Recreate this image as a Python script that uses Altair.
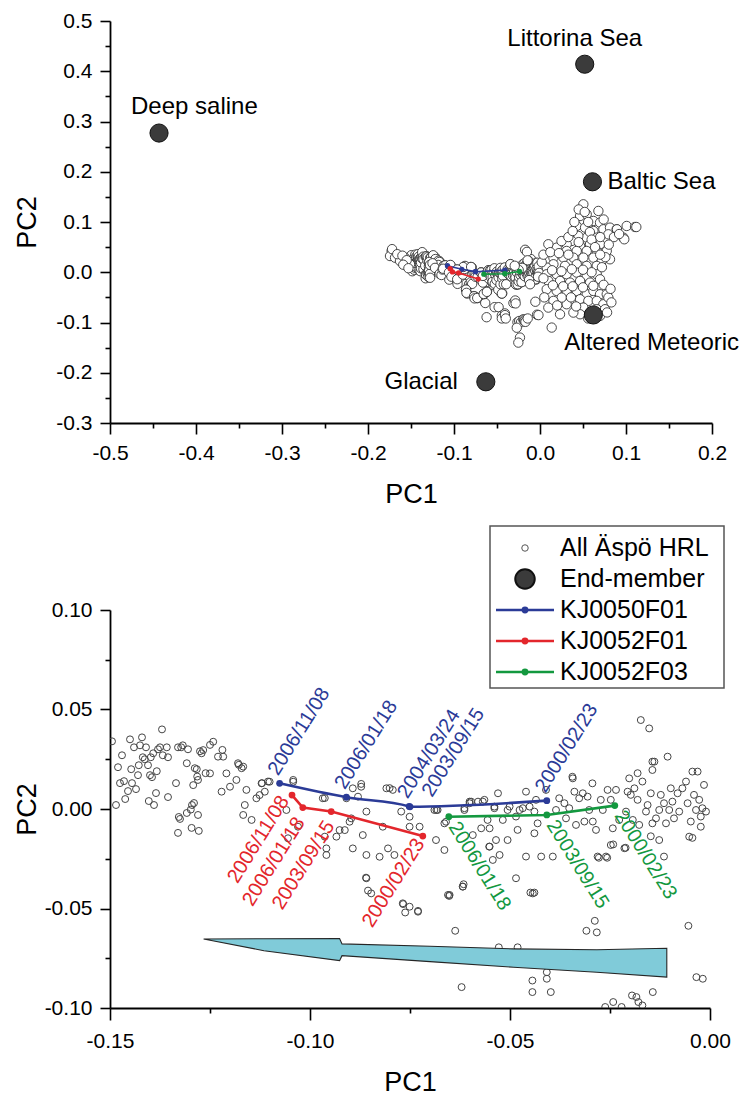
import altair as alt
import pandas as pd

FONT = "Liberation Sans"

# ---------------- data ----------------
# All Äspö HRL samples (PC1, PC2) inside the lower panel window
hrl_left_arm = [
    (-0.1495, 0.034), (-0.1485, 0.002), (-0.1480, 0.021), (-0.1475, 0.013), (-0.1470, 0.027),
    (-0.1465, 0.014), (-0.1462, 0.005), (-0.1455, 0.009), (-0.1450, 0.035), (-0.1447, 0.020),
    (-0.1445, 0.013), (-0.1440, 0.031), (-0.1435, 0.010), (-0.1430, 0.017), (-0.1428, 0.022),
    (-0.1425, 0.032), (-0.1420, 0.036), (-0.1418, 0.026), (-0.1413, 0.025), (-0.1410, 0.031),
    (-0.1405, 0.022), (-0.1403, 0.004), (-0.1400, 0.017), (-0.1398, 0.026), (-0.1395, 0.016),
    (-0.1392, 0.028), (-0.1390, 0.002), (-0.1385, 0.008), (-0.1383, 0.019), (-0.1380, 0.030),
    (-0.1375, 0.031), (-0.1370, 0.040), (-0.1368, 0.027), (-0.1358, 0.031), (-0.1355, 0.026),
    (-0.1355, 0.006), (-0.1335, 0.013), (-0.1330, 0.031), (-0.1330, -0.012), (-0.1328, -0.004),
    (-0.1325, -0.005), (-0.1322, 0.031), (-0.1318, 0.032), (-0.1308, 0.023), (-0.1308, -0.002),
    (-0.1305, 0.030), (-0.1298, -0.0003), (-0.1296, -0.0095), (-0.1295, 0.002), (-0.1292, 0.012),
    (-0.1290, 0.003), (-0.1283, 0.020), (-0.1280, -0.003), (-0.1278, -0.011), (-0.1275, 0.029),
    (-0.1271, 0.028), (-0.1250, 0.0322), (-0.1230, 0.0263), (-0.1219, 0.0297), (-0.1178, 0.0222),
    (-0.1167, 0.0213), (-0.1120, 0.0130), (-0.1105, 0.0138), (-0.1282, 0.0163), (-0.1261, 0.0180),
]
hrl_middle = [
    (-0.1267, 0.0296), (-0.1242, 0.0338), (-0.1217, 0.0263), (-0.1209, 0.0179), (-0.1200, 0.0112),
    (-0.1180, 0.0230), (-0.1171, 0.0205), (-0.1159, 0.0096), (-0.1184, 0.0146), (-0.1163, 0.0020),
    (-0.1288, 0.0205), (-0.1280, 0.0146), (-0.1250, 0.0179), (-0.1221, 0.0087), (-0.1167, -0.0030),
    (-0.1146, -0.0055), (-0.1121, 0.0129), (-0.1113, 0.0087), (-0.1101, 0.0137), (-0.1134, 0.0054),
    (-0.1126, 0.0070), (-0.1042, 0.0137), (-0.1055, -0.0147), (-0.1059, -0.0005), (-0.1030, -0.0089),
    (-0.0959, -0.0198), (-0.0934, -0.0139), (-0.0926, -0.0106), (-0.0913, -0.0106), (-0.0893, -0.0198),
    (-0.0901, -0.0064), (-0.0868, -0.0131), (-0.0859, -0.0231), (-0.0872, 0.0112), (-0.0859, -0.0013),
    (-0.0826, -0.0240), (-0.0818, -0.0089), (-0.0809, 0.0104), (-0.0793, 0.0096), (-0.0805, -0.0198),
    (-0.0789, -0.0231), (-0.0772, -0.0013), (-0.0751, -0.0039), (-0.0751, -0.0089), (-0.0726, -0.0089),
    (-0.0685, -0.0156), (-0.0681, -0.0005), (-0.0664, -0.0206), (-0.0660, -0.0064), (-0.0651, -0.0432),
    (-0.0618, -0.0390), (-0.0614, 0.0004), (-0.0601, 0.0029), (-0.0593, -0.0131), (-0.0568, 0.0037),
    (-0.0556, -0.0055), (-0.0543, -0.0256), (-0.0539, 0.0012), (-0.0535, -0.0156), (-0.0552, -0.0189),
    (-0.0859, -0.0348), (-0.0847, -0.0424), (-0.0768, -0.0474), (-0.0751, -0.0491), (-0.0730, -0.0516),
    (-0.0959, -0.0231), (-0.0963, -0.0139), (-0.0897, -0.0047), (-0.0909, 0.0054), (-0.0880, 0.0062),
    (-0.0968, 0.0054), (-0.1042, 0.0146), (-0.0872, 0.0126), (-0.0893, 0.0104), (-0.0801, 0.0105),
    (-0.0963, 0.0055), (-0.0689, -0.0005), (-0.0597, 0.0037),
]
hrl_low = [
    (-0.0860, -0.0345), (-0.0855, -0.0410), (-0.0767, -0.0478), (-0.0762, -0.0520), (-0.0730, -0.0512),
    (-0.0637, -0.0612), (-0.0621, -0.0895), (-0.0616, -0.0378), (-0.0652, -0.0437), (-0.0528, -0.0695),
    (-0.0481, -0.0695), (-0.0449, -0.0420), (-0.0439, -0.0420), (-0.0444, -0.0862), (-0.0444, -0.0920),
    (-0.0408, -0.0820), (-0.0408, -0.0853), (-0.0398, -0.0920), (-0.0309, -0.0612), (-0.0288, -0.0562),
    (-0.0283, -0.0620), (-0.0262, -0.0995), (-0.0242, -0.0970), (-0.0221, -0.0995), (-0.0195, -0.0937),
    (-0.0184, -0.0945), (-0.0179, -0.0970), (-0.0169, -0.0987), (-0.0143, -0.0920), (-0.0054, -0.0587),
    (-0.0034, -0.0845), (-0.0018, -0.0853), (-0.0278, -0.0245), (-0.0257, -0.0245), (-0.0242, -0.0178),
    (-0.0211, -0.0195), (-0.0148, -0.0137), (-0.0044, -0.0145),
]
hrl_right = [
    (-0.0684, -0.0005), (-0.0664, -0.0072), (-0.0655, -0.0432), (-0.0618, -0.0390), (-0.0614, -0.0005),
    (-0.0601, 0.0037), (-0.0580, 0.0037), (-0.0572, -0.0097), (-0.0564, 0.0046), (-0.0551, -0.0097),
    (-0.0551, -0.0189), (-0.0539, 0.0004), (-0.0530, 0.0079), (-0.0526, -0.0231), (-0.0518, -0.0055),
    (-0.0506, -0.0005), (-0.0506, -0.0156), (-0.0501, 0.0012), (-0.0485, -0.0038), (-0.0485, -0.0348),
    (-0.0481, -0.0105), (-0.0476, -0.0005), (-0.0468, 0.0004), (-0.0460, 0.0087), (-0.0460, -0.0239),
    (-0.0451, 0.0012), (-0.0443, -0.0424), (-0.0439, -0.0013), (-0.0439, -0.0122), (-0.0435, 0.0046),
    (-0.0431, -0.0072), (-0.0422, -0.0239), (-0.0410, 0.0096), (-0.0393, -0.0239), (-0.0385, -0.0005),
    (-0.0377, 0.0054), (-0.0364, 0.0029), (-0.0360, -0.0047), (-0.0352, 0.0004), (-0.0343, 0.0154),
    (-0.0339, 0.0087), (-0.0335, -0.0080), (-0.0327, 0.0054), (-0.0318, 0.0079), (-0.0314, -0.0063),
    (-0.0306, 0.0062), (-0.0302, -0.0005), (-0.0293, -0.0063), (-0.0285, -0.0105), (-0.0281, -0.0239),
    (-0.0273, 0.0046), (-0.0268, -0.0005), (-0.0260, -0.0239), (-0.0256, 0.0096), (-0.0248, -0.0181),
    (-0.0243, -0.0097), (-0.0235, 0.0096), (-0.0227, -0.0055), (-0.0214, -0.0197), (-0.0210, -0.0013),
    (-0.0202, 0.0154), (-0.0198, 0.0071), (-0.0193, -0.0055), (-0.0189, 0.0104), (-0.0181, 0.0046),
    (-0.0181, 0.0180), (-0.0177, -0.0080), (-0.0169, 0.0138), (-0.0160, -0.0013), (-0.0156, 0.0020),
    (-0.0148, 0.0079), (-0.0144, 0.0196), (-0.0144, -0.0072), (-0.0135, -0.0047), (-0.0127, -0.0005),
    (-0.0123, 0.0071), (-0.0115, 0.0029), (-0.0110, -0.0072), (-0.0106, 0.0263), (-0.0102, -0.0005),
    (-0.0098, 0.0104), (-0.0094, 0.0037), (-0.0090, -0.0047), (-0.0081, 0.0079), (-0.0077, -0.0013),
    (-0.0069, 0.0104), (-0.0060, 0.0138), (-0.0056, 0.0029), (-0.0052, -0.0139), (-0.0048, -0.0063),
    (-0.0044, 0.0188), (-0.0040, 0.0071), (-0.0035, -0.0005), (-0.0031, 0.0188), (-0.0027, 0.0046),
    (-0.0023, -0.0038), (-0.0019, 0.0004), (-0.0015, 0.0121), (-0.0010, -0.0013), (-0.0139, 0.0238),
    (-0.0023, -0.0089), (-0.0206, 0.0087), (-0.0248, 0.0046), (-0.0127, -0.0156), (-0.0115, -0.0239),
    (-0.0173, 0.0447), (-0.0152, 0.0405), (-0.0144, 0.0238), (-0.0344, 0.0162), (-0.0294, 0.0129),
]
# samples visible only in the upper panel
hrl_outer_left = [
    (-0.1725, 0.0423), (-0.1744, 0.0323), (-0.1686, 0.0290), (-0.1628, 0.0224), (-0.1570, 0.0290),
    (-0.1512, 0.0158), (-0.1720, 0.0460), (-0.1660, 0.0360), (-0.1600, 0.0330), (-0.1550, 0.0240),
    (-0.1590, 0.0150), (-0.1530, 0.0080),
]
hrl_outer_low = [(-0.0270, -0.1104), (-0.0233, -0.1300), (-0.0252, -0.1400), (0.0136, -0.1101)]
hrl_outer_right = [
    (0.0504, 0.1352), (0.0466, 0.1120), (0.0543, 0.1153), (0.0621, 0.1021), (0.0679, 0.1220),
    (0.0698, 0.0988), (0.0427, 0.0921), (0.0524, 0.0888), (0.0621, 0.0822), (0.0737, 0.0855),
    (0.0814, 0.0888), (0.0892, 0.0855), (0.1008, 0.0921), (0.1105, 0.0901), (0.0970, 0.0689),
    (0.0795, 0.0755), (0.0660, 0.0689), (0.0543, 0.0689), (0.0446, 0.0722), (0.0369, 0.0623),
    (0.0310, 0.0557), (0.0466, 0.0524), (0.0582, 0.0557), (0.0698, 0.0557), (0.0776, 0.0424),
    (0.0660, 0.0424), (0.0543, 0.0424), (0.0427, 0.0424), (0.0310, 0.0424), (0.0194, 0.0490),
    (0.0097, 0.0557), (0.0156, 0.0291), (0.0272, 0.0291), (0.0388, 0.0291), (0.0504, 0.0291),
    (0.0621, 0.0291), (0.0718, 0.0225), (0.0814, 0.0258), (0.0156, 0.0159), (0.0291, 0.0126),
    (0.0427, 0.0159), (0.0543, 0.0126), (0.0660, 0.0126), (0.0078, 0.0093), (0.0078, -0.0040),
    (0.0194, -0.0040), (0.0310, -0.0040), (0.0427, -0.0007), (0.0543, -0.0073), (0.0660, -0.0040),
    (0.0097, -0.0173), (0.0233, -0.0173), (0.0349, -0.0206), (0.0466, -0.0173), (0.0582, -0.0206),
    (0.0698, -0.0140), (0.0078, -0.0338), (0.0194, -0.0372), (0.0310, -0.0372), (0.0427, -0.0372),
    (0.0543, -0.0438), (0.0621, -0.0372), (0.0698, -0.0438), (0.0776, -0.0438), (0.0466, -0.0537),
    (0.0562, -0.0570), (0.0660, -0.0570), (0.0737, -0.0637), (0.0795, -0.0504), (0.0504, -0.0703),
    (0.0660, -0.0736), (0.0756, -0.0736), (0.0466, -0.0836), (0.0621, -0.0836), (0.0698, -0.0869),
    (0.0388, -0.0803), (0.0310, -0.0637), (0.0252, -0.0504), (0.0156, -0.0570), (0.0097, -0.0703),
    (0.0233, -0.0836), (0.0895, 0.0855), (0.1120, 0.0900), (0.0980, 0.0656),
]
hrl_outer_wing = [
    (0.0020, 0.0200), (0.0040, 0.0350), (0.0120, 0.0400), (0.0220, 0.0380), (0.0250, 0.0620),
    (0.0330, 0.0700), (0.0380, 0.0820), (0.0400, 0.1000), (0.0450, 0.1250), (0.0520, 0.1200),
    (0.0560, 0.1000), (0.0580, 0.0800), (0.0600, 0.0650), (0.0640, 0.0500), (0.0700, 0.0700),
    (0.0740, 0.1050), (0.0760, 0.0300), (0.0720, 0.0100), (0.0600, 0.0000), (0.0500, 0.0050),
    (0.0370, 0.0060), (0.0250, 0.0020), (0.0140, 0.0040), (0.0040, -0.0120), (0.0150, -0.0260),
    (0.0270, -0.0280), (0.0380, -0.0280), (0.0500, -0.0300), (0.0620, -0.0270), (0.0740, -0.0250),
    (0.0820, -0.0330), (0.0830, -0.0600), (0.0780, -0.0800), (0.0560, -0.0920), (0.0420, -0.0680),
    (0.0360, -0.0500), (0.0200, -0.0660), (0.0050, -0.0500), (0.0860, 0.0700), (0.0920, 0.0760),
    (0.0330, 0.0350), (0.0450, 0.0600), (0.0700, 0.0350), (0.0800, 0.0550),
]

# End-members
em_names = ["Deep saline", "Littorina Sea", "Baltic Sea", "Altered Meteoric", "Glacial"]
em_pc1 = [-0.443, 0.052, 0.061, 0.062, -0.063]
em_pc2 = [0.277, 0.414, 0.180, -0.085, -0.218]

# Sampling sections
wells = ["KJ0050F01", "KJ0052F01", "KJ0052F03"]
well_colors = ["#2b3b97", "#e3262c", "#13983f"]
kj0050f01_dates = ["2006/11/08", "2006/01/18", "2004/03/24", "2003/09/15", "2000/02/23"]
kj0050f01_pc1 = [-0.1076, -0.0909, -0.0752, -0.0750, -0.0408]
kj0050f01_pc2 = [0.0129, 0.0059, 0.0013, 0.0011, 0.0042]
kj0052f01_dates = ["2006/11/08", "2006/01/18", "2003/09/15", "2000/02/23"]
kj0052f01_pc1 = [-0.1045, -0.1018, -0.0947, -0.0718]
kj0052f01_pc2 = [0.0070, 0.0007, -0.0013, -0.0136]
kj0052f03_dates = ["2006/01/18", "2003/09/15", "2000/02/23"]
kj0052f03_pc1 = [-0.0653, -0.0408, -0.0238]
kj0052f03_pc2 = [-0.0039, -0.0030, 0.0017]

# Flow arrow outline (lower panel)
arrow_pc1 = [-0.1266, -0.1115, -0.0926, -0.0920, -0.0700, -0.0491, -0.0283, -0.0108]
arrow_top = [-0.0653, -0.0652, -0.0651, -0.0678, -0.0690, -0.0703, -0.0707, -0.0700]
arrow_bottom = [-0.0653, -0.0712, -0.0762, -0.0737, -0.0767, -0.0795, -0.0820, -0.0845]

legend_labels = ["All Äspö HRL", "End-member", "KJ0050F01", "KJ0052F01", "KJ0052F03"]

# ---------------- tables ----------------
inner = hrl_left_arm + hrl_middle + hrl_low + hrl_right
outer = hrl_outer_left + hrl_outer_low + hrl_outer_right + hrl_outer_wing
cloud_df = pd.DataFrame(inner + outer, columns=["PC1", "PC2"])
em_df = pd.DataFrame({"name": em_names, "PC1": em_pc1, "PC2": em_pc2})
rows = []
for w, d, xs, ys in [
    ("KJ0050F01", kj0050f01_dates, kj0050f01_pc1, kj0050f01_pc2),
    ("KJ0052F01", kj0052f01_dates, kj0052f01_pc1, kj0052f01_pc2),
    ("KJ0052F03", kj0052f03_dates, kj0052f03_pc1, kj0052f03_pc2),
]:
    for dd, xx, yy in zip(d, xs, ys):
        rows.append({"well": w, "date": dd, "PC1": xx, "PC2": yy})
series_df = pd.DataFrame(rows)
arrow_df = pd.DataFrame({"PC1": arrow_pc1, "top": arrow_top, "bottom": arrow_bottom})
leg_df = pd.DataFrame({"label": legend_labels})

well_scale = alt.Scale(domain=wells, range=well_colors)


def lab_expr(dec):
    return "(datum.value < 0 ? '-' : '') + format(abs(datum.value), '.%df')" % dec


def major_axis(orient, values, dec, title, tick, pad, tx, ty):
    kw = dict(
        orient=orient, values=values, labelExpr=lab_expr(dec), title=title,
        tickSize=tick, tickWidth=1.6, tickColor="black", domainColor="black",
        domainWidth=1.8, grid=False, labelFont=FONT, labelFontSize=21,
        labelColor="black", labelPadding=pad, labelFlush=False, labelOverlap=False,
        titleFont=FONT, titleFontSize=27, titleFontWeight="normal", titleColor="black",
        titleX=tx, titleY=ty, titleBaseline="middle", titleAlign="center",
    )
    if orient == "left":
        kw["titleAngle"] = 270
    return alt.Axis(**kw)


def minor_axis(orient, values):
    return alt.Axis(orient=orient, values=values, labels=False, domain=False, grid=False,
                    tickSize=5, tickWidth=1.6, tickColor="black", title=None)


# ---------------- upper panel ----------------
TW, TH = 602, 402
xs_t = alt.Scale(domain=[-0.5, 0.2], nice=False, zero=False)
ys_t = alt.Scale(domain=[-0.3, 0.5], nice=False, zero=False)
xt = lambda ax=None: alt.X("PC1:Q", scale=xs_t, axis=ax)
yt = lambda ax=None: alt.Y("PC2:Q", scale=ys_t, axis=ax)

t_minor = alt.Chart(em_df).mark_point(opacity=0).encode(
    x=xt(minor_axis("bottom", [-0.45, -0.35, -0.25, -0.15, -0.05, 0.05, 0.15])),
    y=yt(minor_axis("left", [-0.25, -0.15, -0.05, 0.05, 0.15, 0.25, 0.35, 0.45])),
)
t_cloud = alt.Chart(cloud_df).mark_point(
    shape="circle", size=88, filled=True, fill="white", stroke="#333333",
    strokeWidth=0.9, opacity=1,
).encode(
    x=xt(major_axis("bottom", [-0.5, -0.4, -0.3, -0.2, -0.1, 0.0, 0.1, 0.2], 1, "PC1", 11, 8, TW / 2, 71)),
    y=yt(major_axis("left", [-0.3, -0.2, -0.1, 0.0, 0.1, 0.2, 0.3, 0.4, 0.5], 1, "PC2", 10, 8, -83, TH / 2)),
)
t_lines = alt.Chart(series_df).mark_line(strokeWidth=1.6).encode(
    x=xt(), y=yt(), color=alt.Color("well:N", scale=well_scale, legend=None), detail="well:N")
t_pts = alt.Chart(series_df).mark_circle(size=28, opacity=1).encode(
    x=xt(), y=yt(), color=alt.Color("well:N", scale=well_scale, legend=None))
t_em = alt.Chart(em_df).mark_point(
    shape="circle", size=330, filled=True, fill="#3b3b3b", stroke="#111111", strokeWidth=1, opacity=1
).encode(x=xt(), y=yt())


def em_label(name, align, dx, dy):
    return alt.Chart(em_df).transform_filter(alt.datum.name == name).mark_text(
        font=FONT, fontSize=24, color="black", align=align, baseline="middle", dx=dx, dy=dy
    ).encode(x=xt(), y=yt(), text="name:N")


top = alt.layer(
    t_minor, t_cloud, t_lines, t_pts, t_em,
    em_label("Deep saline", "left", -28, -26),
    em_label("Littorina Sea", "center", -10, -25),
    em_label("Baltic Sea", "left", 15, 0),
    em_label("Altered Meteoric", "left", -29, 28),
    em_label("Glacial", "right", -28, 0),
).resolve_axis(x="independent", y="independent").properties(width=TW, height=TH)

# ---------------- lower panel ----------------
BW, BH = 600, 398
xs_b = alt.Scale(domain=[-0.15, 0.0], nice=False, zero=False)
ys_b = alt.Scale(domain=[-0.10, 0.10], nice=False, zero=False)
xb = lambda ax=None: alt.X("PC1:Q", scale=xs_b, axis=ax)
yb = lambda ax=None: alt.Y("PC2:Q", scale=ys_b, axis=ax)

b_minor = alt.Chart(series_df).mark_point(opacity=0).encode(
    x=xb(minor_axis("bottom", [-0.125, -0.075, -0.025])),
    y=yb(minor_axis("left", [-0.075, -0.025, 0.025, 0.075])),
)
b_cloud = alt.Chart(cloud_df).mark_point(
    shape="circle", size=48, filled=False, color="#444444", strokeWidth=1, opacity=1, clip=True
).encode(
    x=xb(major_axis("bottom", [-0.15, -0.10, -0.05, 0.0], 2, "PC1", 12, 10, BW / 2, 74)),
    y=yb(major_axis("left", [-0.10, -0.05, 0.0, 0.05, 0.10], 2, "PC2", 10, 8, -83, BH / 2)),
)
b_arrow = alt.Chart(arrow_df).mark_area(
    fill="#80cbd9", stroke="#262626", strokeWidth=1.1, opacity=1
).encode(x=alt.X("PC1:Q", scale=xs_b, axis=None),
         y=alt.Y("top:Q", scale=ys_b, axis=None), y2="bottom:Q")
b_line_blue = alt.Chart(series_df).transform_filter("datum.well == 'KJ0050F01'").mark_line(
    strokeWidth=2.6, interpolate="monotone").encode(
    x=xb(), y=yb(), color=alt.Color("well:N", scale=well_scale, legend=None))
b_lines = alt.Chart(series_df).transform_filter("datum.well != 'KJ0050F01'").mark_line(strokeWidth=2.6).encode(
    x=xb(), y=yb(), color=alt.Color("well:N", scale=well_scale, legend=None), detail="well:N")
b_pts = alt.Chart(series_df).mark_circle(size=46, opacity=1).encode(
    x=xb(), y=yb(), color=alt.Color("well:N", scale=well_scale, legend=None))


def date_label(well, date, angle, align, baseline, dx, dy):
    flt = "datum.well == '%s' && datum.date == '%s'" % (well, date)
    return alt.Chart(series_df).transform_filter(flt).mark_text(
        font=FONT, fontSize=20, angle=angle, align=align, baseline=baseline, dx=dx, dy=dy
    ).encode(x=xb(), y=yb(), text="date:N",
             color=alt.Color("well:N", scale=well_scale, legend=None))


# label placement (style): (well, date) -> angle, align, baseline, dx, dy
label_style = [
    ("KJ0050F01", "2006/11/08", 302, "left", "bottom", 5, -1),
    ("KJ0050F01", "2006/01/18", 302, "left", "bottom", 5, -1),
    ("KJ0050F01", "2004/03/24", 302, "left", "bottom", 5, -1),
    ("KJ0050F01", "2003/09/15", 302, "left", "bottom", 19, 18),
    ("KJ0050F01", "2000/02/23", 302, "left", "bottom", 5, -1),
    ("KJ0052F01", "2006/11/08", 302, "right", "middle", -6, -5),
    ("KJ0052F01", "2006/01/18", 302, "right", "middle", -11, 4),
    ("KJ0052F01", "2003/09/15", 302, "right", "middle", -10, 5),
    ("KJ0052F01", "2000/02/23", 302, "right", "middle", -5, 0),
    ("KJ0052F03", "2006/01/18", 58, "left", "middle", 8, 0),
    ("KJ0052F03", "2003/09/15", 58, "left", "middle", 8, 0),
    ("KJ0052F03", "2000/02/23", 58, "left", "middle", 8, 0),
]
date_layers = [date_label(*s) for s in label_style]

b_main = alt.layer(
    b_minor, b_cloud, b_arrow, b_line_blue, b_lines, b_pts, *date_layers
).resolve_axis(x="independent", y="independent")

ly = alt.Y("label:N", scale=alt.Scale(type="point", domain=legend_labels, range=[-62, 62], padding=0), axis=None)
leg_box = alt.Chart(leg_df.head(1)).mark_rect(fill="white", stroke="#555555", strokeWidth=1.5).encode(
    x=alt.value(380), x2=alt.value(614), y=alt.value(-84), y2=alt.value(78))
leg_text = alt.Chart(leg_df).mark_text(font=FONT, fontSize=25, align="left", baseline="middle", color="black").encode(
    x=alt.value(450), y=ly, text="label:N")
leg_open = alt.Chart(leg_df).transform_filter(alt.datum.label == "All Äspö HRL").mark_point(
    shape="circle", size=42, filled=False, color="#555555", strokeWidth=1, opacity=1).encode(x=alt.value(415), y=ly)
leg_em = alt.Chart(leg_df).transform_filter(alt.datum.label == "End-member").mark_point(
    shape="circle", size=380, filled=True, fill="#3b3b3b", stroke="#111111", opacity=1).encode(x=alt.value(415), y=ly)
well_filter = "indexof(['KJ0050F01','KJ0052F01','KJ0052F03'], datum.label) >= 0"
leg_rule = alt.Chart(leg_df).transform_filter(well_filter).mark_rule(strokeWidth=2.6).encode(
    x=alt.value(386), x2=alt.value(444), y=ly, color=alt.Color("label:N", scale=well_scale, legend=None))
leg_dot = alt.Chart(leg_df).transform_filter(well_filter).mark_circle(size=46, opacity=1).encode(
    x=alt.value(415), y=ly, color=alt.Color("label:N", scale=well_scale, legend=None))
legend = alt.layer(leg_box, leg_text, leg_open, leg_em, leg_rule, leg_dot)

bottom = alt.layer(b_main, legend).resolve_scale(y="independent").properties(width=BW, height=BH)

chart = alt.vconcat(top, bottom, spacing=18).properties(
    padding={"left": 13, "top": 10, "right": 0, "bottom": 0}
).configure_view(strokeWidth=0)

chart.save("out.html", embed_options={"renderer": "svg", "actions": False})
